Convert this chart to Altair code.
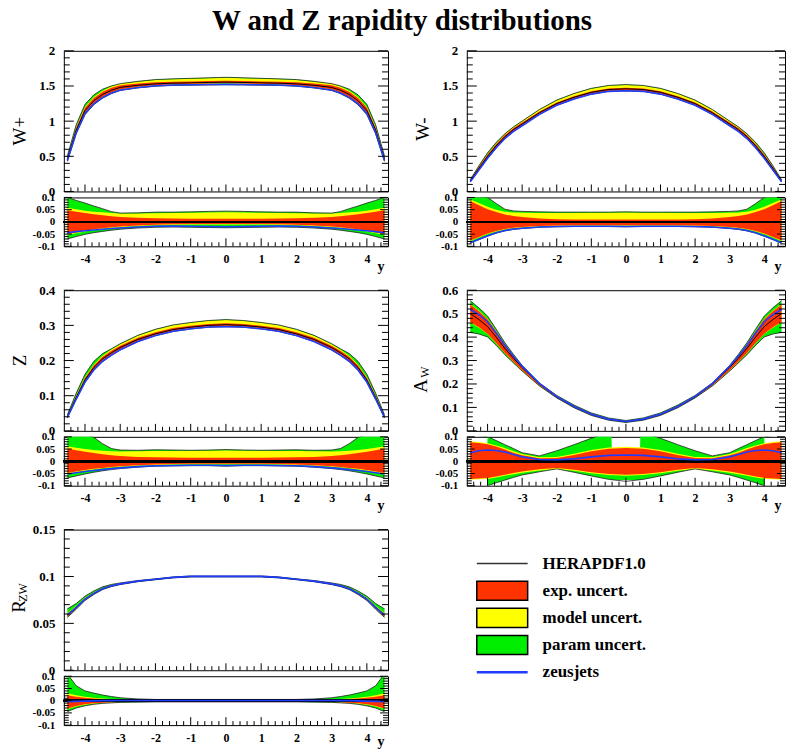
import altair as alt
import pandas as pd

# ---------------- data ----------------
RAP = [-4.5, -4.25, -4.0, -3.75, -3.5, -3.25, -3.0, -2.5, -2.0, -1.5, -1.0, -0.5, 0.0,
       0.5, 1.0, 1.5, 2.0, 2.5, 3.0, 3.25, 3.5, 3.75, 4.0, 4.25, 4.5]

# W+
WP_CENTRAL = [0.46, 0.87, 1.15, 1.29, 1.38, 1.44, 1.48, 1.51, 1.53, 1.54, 1.545, 1.55, 1.555,
              1.55, 1.545, 1.54, 1.53, 1.51, 1.48, 1.44, 1.38, 1.29, 1.15, 0.87, 0.46]
WP_G_UP = [0.100, 0.088, 0.077, 0.065, 0.054, 0.042, 0.036, 0.037, 0.040, 0.040, 0.041, 0.043, 0.044,
           0.043, 0.041, 0.040, 0.040, 0.037, 0.036, 0.042, 0.054, 0.065, 0.077, 0.088, 0.100]
WP_Y_UP = [0.058, 0.052, 0.046, 0.042, 0.039, 0.036, 0.034, 0.034, 0.035, 0.036, 0.037, 0.038, 0.039,
           0.038, 0.037, 0.036, 0.035, 0.034, 0.034, 0.036, 0.039, 0.042, 0.046, 0.052, 0.058]
WP_R_UP = [0.048, 0.042, 0.036, 0.031, 0.027, 0.023, 0.020, 0.017, 0.015, 0.014, 0.013, 0.013, 0.013,
           0.013, 0.013, 0.014, 0.015, 0.017, 0.020, 0.023, 0.027, 0.031, 0.036, 0.042, 0.048]
WP_R_LO = [-0.050, -0.043, -0.036, -0.030, -0.026, -0.022, -0.019, -0.015, -0.012, -0.010, -0.009, -0.009, -0.009,
           -0.009, -0.009, -0.010, -0.012, -0.015, -0.019, -0.022, -0.026, -0.030, -0.036, -0.043, -0.050]
WP_Y_LO = [-0.053, -0.046, -0.039, -0.033, -0.029, -0.025, -0.022, -0.017, -0.014, -0.012, -0.011, -0.011, -0.011,
           -0.011, -0.011, -0.012, -0.014, -0.017, -0.022, -0.025, -0.029, -0.033, -0.039, -0.046, -0.053]
WP_G_LO = [-0.070, -0.060, -0.051, -0.044, -0.039, -0.034, -0.030, -0.025, -0.022, -0.021, -0.022, -0.023, -0.024,
           -0.023, -0.022, -0.021, -0.022, -0.025, -0.030, -0.034, -0.039, -0.044, -0.051, -0.060, -0.070]
WP_BLUE = [-0.045, -0.040, -0.036, -0.033, -0.030, -0.027, -0.025, -0.021, -0.018, -0.017, -0.018, -0.019, -0.020,
           -0.019, -0.018, -0.017, -0.018, -0.021, -0.025, -0.027, -0.030, -0.033, -0.036, -0.040, -0.045]

# W-
WM_CENTRAL = [0.15, 0.33, 0.50, 0.65, 0.78, 0.88, 0.96, 1.12, 1.25, 1.34, 1.41, 1.45, 1.46,
              1.45, 1.41, 1.34, 1.25, 1.12, 0.96, 0.88, 0.78, 0.65, 0.50, 0.33, 0.15]
WM_G_UP = [0.12, 0.11, 0.10, 0.075, 0.052, 0.045, 0.043, 0.041, 0.040, 0.040, 0.040, 0.040, 0.041,
           0.040, 0.040, 0.040, 0.040, 0.041, 0.043, 0.045, 0.052, 0.075, 0.10, 0.11, 0.12]
WM_Y_UP = [0.092, 0.077, 0.062, 0.050, 0.041, 0.038, 0.037, 0.036, 0.036, 0.036, 0.037, 0.037, 0.038,
           0.037, 0.037, 0.036, 0.036, 0.036, 0.037, 0.038, 0.041, 0.050, 0.062, 0.077, 0.092]
WM_R_UP = [0.085, 0.068, 0.052, 0.040, 0.030, 0.024, 0.020, 0.014, 0.011, 0.010, 0.010, 0.010, 0.010,
           0.010, 0.010, 0.010, 0.011, 0.014, 0.020, 0.024, 0.030, 0.040, 0.052, 0.068, 0.085]
WM_R_LO = [-0.076, -0.062, -0.048, -0.037, -0.029, -0.024, -0.021, -0.017, -0.015, -0.014, -0.014, -0.014, -0.014,
           -0.014, -0.014, -0.014, -0.015, -0.017, -0.021, -0.024, -0.029, -0.037, -0.048, -0.062, -0.076]
WM_Y_LO = [-0.078, -0.064, -0.050, -0.039, -0.031, -0.026, -0.023, -0.019, -0.017, -0.016, -0.016, -0.016, -0.016,
           -0.016, -0.016, -0.016, -0.017, -0.019, -0.023, -0.026, -0.031, -0.039, -0.050, -0.064, -0.078]
WM_G_LO = [-0.086, -0.073, -0.059, -0.046, -0.037, -0.031, -0.027, -0.022, -0.020, -0.019, -0.019, -0.019, -0.020,
           -0.019, -0.019, -0.019, -0.020, -0.022, -0.027, -0.031, -0.037, -0.046, -0.059, -0.073, -0.086]
WM_BLUE = [-0.085, -0.071, -0.057, -0.044, -0.035, -0.029, -0.026, -0.021, -0.019, -0.018, -0.018, -0.018, -0.019,
           -0.018, -0.018, -0.018, -0.019, -0.021, -0.026, -0.029, -0.035, -0.044, -0.057, -0.071, -0.085]

# Z
Z_CENTRAL = [0.040, 0.095, 0.145, 0.180, 0.205, 0.222, 0.237, 0.260, 0.276, 0.288, 0.295, 0.300, 0.302,
             0.300, 0.295, 0.288, 0.276, 0.260, 0.237, 0.222, 0.205, 0.180, 0.145, 0.095, 0.040]
Z_G_UP = [0.14, 0.125, 0.11, 0.098, 0.072, 0.052, 0.046, 0.045, 0.047, 0.046, 0.045, 0.046, 0.048,
          0.046, 0.045, 0.046, 0.047, 0.045, 0.046, 0.052, 0.072, 0.098, 0.11, 0.125, 0.14]
Z_Y_UP = [0.062, 0.055, 0.050, 0.046, 0.043, 0.041, 0.040, 0.041, 0.042, 0.042, 0.042, 0.043, 0.044,
          0.043, 0.042, 0.042, 0.042, 0.041, 0.040, 0.041, 0.043, 0.046, 0.050, 0.055, 0.062]
Z_R_UP = [0.052, 0.045, 0.039, 0.034, 0.029, 0.025, 0.022, 0.018, 0.016, 0.015, 0.014, 0.014, 0.014,
          0.014, 0.014, 0.015, 0.016, 0.018, 0.022, 0.025, 0.029, 0.034, 0.039, 0.045, 0.052]
Z_R_LO = [-0.048, -0.042, -0.036, -0.031, -0.027, -0.023, -0.020, -0.016, -0.013, -0.011, -0.010, -0.010, -0.010,
          -0.010, -0.010, -0.011, -0.013, -0.016, -0.020, -0.023, -0.027, -0.031, -0.036, -0.042, -0.048]
Z_Y_LO = [-0.051, -0.045, -0.039, -0.034, -0.029, -0.025, -0.022, -0.018, -0.015, -0.013, -0.012, -0.012, -0.012,
          -0.012, -0.012, -0.013, -0.015, -0.018, -0.022, -0.025, -0.029, -0.034, -0.039, -0.045, -0.051]
Z_G_LO = [-0.068, -0.060, -0.052, -0.045, -0.039, -0.034, -0.030, -0.024, -0.020, -0.019, -0.018, -0.018, -0.020,
          -0.018, -0.018, -0.019, -0.020, -0.024, -0.030, -0.034, -0.039, -0.045, -0.052, -0.060, -0.068]
Z_BLUE = [-0.052, -0.047, -0.042, -0.038, -0.034, -0.030, -0.027, -0.022, -0.018, -0.017, -0.016, -0.016, -0.017,
          -0.016, -0.016, -0.017, -0.018, -0.022, -0.027, -0.030, -0.034, -0.038, -0.042, -0.047, -0.052]

# A_W
AW_CENTRAL = [0.50, 0.475, 0.445, 0.40, 0.352, 0.31, 0.27, 0.20, 0.145, 0.103, 0.07, 0.049, 0.039,
              0.049, 0.07, 0.103, 0.145, 0.20, 0.27, 0.31, 0.352, 0.40, 0.445, 0.475, 0.50]
AW_G_UP = [0.11, 0.105, 0.10, 0.085, 0.068, 0.052, 0.035, 0.022, 0.043, 0.068, 0.094, 0.12, 0.13,
           0.12, 0.094, 0.068, 0.043, 0.022, 0.035, 0.052, 0.068, 0.085, 0.10, 0.105, 0.11]
AW_Y_UP = [0.082, 0.079, 0.074, 0.065, 0.054, 0.041, 0.030, 0.017, 0.018, 0.031, 0.046, 0.056, 0.059,
           0.056, 0.046, 0.031, 0.018, 0.017, 0.030, 0.041, 0.054, 0.065, 0.074, 0.079, 0.082]
AW_R_UP = [0.078, 0.075, 0.070, 0.060, 0.048, 0.035, 0.025, 0.012, 0.013, 0.026, 0.041, 0.051, 0.054,
           0.051, 0.041, 0.026, 0.013, 0.012, 0.025, 0.035, 0.048, 0.060, 0.070, 0.075, 0.078]
AW_R_LO = [-0.072, -0.070, -0.068, -0.062, -0.055, -0.048, -0.042, -0.033, -0.028, -0.035, -0.045, -0.052, -0.055,
           -0.052, -0.045, -0.035, -0.028, -0.033, -0.042, -0.048, -0.055, -0.062, -0.068, -0.070, -0.072]
AW_Y_LO = [-0.076, -0.074, -0.072, -0.066, -0.059, -0.053, -0.047, -0.038, -0.032, -0.039, -0.049, -0.056, -0.059,
           -0.056, -0.049, -0.039, -0.032, -0.038, -0.047, -0.053, -0.059, -0.066, -0.072, -0.074, -0.076]
AW_G_LO = [-0.16, -0.13, -0.10, -0.088, -0.077, -0.066, -0.056, -0.043, -0.031, -0.045, -0.060, -0.074, -0.082,
           -0.074, -0.060, -0.045, -0.031, -0.043, -0.056, -0.066, -0.077, -0.088, -0.10, -0.13, -0.16]
AW_BLUE = [0.035, 0.043, 0.046, 0.044, 0.038, 0.028, 0.018, 0.007, 0.006, 0.010, 0.018, 0.024, 0.026,
           0.024, 0.018, 0.010, 0.006, 0.007, 0.018, 0.028, 0.038, 0.044, 0.046, 0.043, 0.035]
# visible part of the green fill in the A_W ratio pad (as drawn in the picture)
AW_GF_RAP = [-4.5, -4.02, -4.0, -3.75, -3.5, -3.25, -3.0, -2.5, -2.0, -1.5, -1.0, -0.5, -0.42, -0.4,
             0.4, 0.42, 0.5, 1.0, 1.5, 2.0, 2.5, 3.0, 3.25, 3.5, 3.75, 4.0, 4.02, 4.5]
AW_GF_UP = [0.0, 0.0, 0.10, 0.085, 0.068, 0.052, 0.035, 0.022, 0.043, 0.068, 0.094, 0.12, 0.12, 0.0,
            0.0, 0.12, 0.12, 0.094, 0.068, 0.043, 0.022, 0.035, 0.052, 0.068, 0.085, 0.10, 0.0, 0.0]
AW_GF_LO = [0.0, 0.0, -0.10, -0.088, -0.077, -0.066, -0.056, -0.043, -0.031, -0.045, -0.060, -0.074, -0.076, -0.077,
            -0.077, -0.076, -0.074, -0.060, -0.045, -0.031, -0.043, -0.056, -0.066, -0.077, -0.088, -0.10, 0.0, 0.0]

# R_ZW
RZ_CENTRAL = [0.059, 0.067, 0.076, 0.082, 0.087, 0.090, 0.092, 0.095, 0.097, 0.099, 0.100, 0.100, 0.100,
              0.100, 0.100, 0.099, 0.097, 0.095, 0.092, 0.090, 0.087, 0.082, 0.076, 0.067, 0.059]
RZ_G_UP = [0.11, 0.061, 0.040, 0.031, 0.023, 0.017, 0.012, 0.007, 0.005, 0.005, 0.005, 0.005, 0.005,
           0.005, 0.005, 0.005, 0.005, 0.007, 0.012, 0.017, 0.023, 0.031, 0.040, 0.061, 0.11]
RZ_Y_UP = [0.030, 0.022, 0.016, 0.012, 0.009, 0.007, 0.006, 0.005, 0.004, 0.004, 0.004, 0.004, 0.004,
           0.004, 0.004, 0.004, 0.004, 0.005, 0.006, 0.007, 0.009, 0.012, 0.016, 0.022, 0.030]
RZ_R_UP = [0.022, 0.016, 0.012, 0.009, 0.007, 0.005, 0.004, 0.003, 0.003, 0.003, 0.003, 0.003, 0.003,
           0.003, 0.003, 0.003, 0.003, 0.003, 0.004, 0.005, 0.007, 0.009, 0.012, 0.016, 0.022]
RZ_R_LO = [-0.032, -0.022, -0.015, -0.011, -0.008, -0.006, -0.005, -0.004, -0.003, -0.003, -0.003, -0.003, -0.003,
           -0.003, -0.003, -0.003, -0.003, -0.004, -0.005, -0.006, -0.008, -0.011, -0.015, -0.022, -0.032]
RZ_Y_LO = [-0.034, -0.024, -0.017, -0.013, -0.010, -0.008, -0.006, -0.005, -0.004, -0.004, -0.004, -0.004, -0.004,
           -0.004, -0.004, -0.004, -0.004, -0.005, -0.006, -0.008, -0.010, -0.013, -0.017, -0.024, -0.034]
RZ_G_LO = [-0.045, -0.030, -0.021, -0.015, -0.011, -0.009, -0.007, -0.006, -0.005, -0.005, -0.005, -0.005, -0.005,
           -0.005, -0.005, -0.005, -0.005, -0.006, -0.007, -0.009, -0.011, -0.015, -0.021, -0.030, -0.045]
RZ_BLUE = [-0.004, -0.003, -0.002, -0.001, 0.0, 0.0, 0.001, 0.001, 0.001, 0.001, 0.001, 0.001, 0.001,
           0.001, 0.001, 0.001, 0.001, 0.001, 0.001, 0.0, 0.0, -0.001, -0.002, -0.003, -0.004]

# axis labels / ticks
X_LABELS = [-4, -3, -2, -1, 0, 1, 2, 3, 4]
X_MINOR = [k / 5 for k in range(-22, 23) if k % 5 != 0]
RATIO_LABELS = [-0.1, -0.05, 0, 0.05, 0.1]
RATIO_MINOR = [round(k / 100, 3) for k in range(-10, 11) if k % 5 != 0]
W_LABELS = [0, 0.5, 1, 1.5, 2]
W_MINOR = [round(k / 10, 2) for k in range(0, 21) if k % 5 != 0]
Z_LABELS = [0, 0.1, 0.2, 0.3, 0.4]
Z_MINOR = [round(k / 50, 3) for k in range(0, 21) if k % 5 != 0]
AW_LABELS = [0, 0.1, 0.2, 0.3, 0.4, 0.5, 0.6]
AW_MINOR = [round(k / 50, 3) for k in range(0, 31) if k % 5 != 0]
RZ_LABELS = [0, 0.05, 0.1, 0.15]
RZ_MINOR = [round(k / 100, 3) for k in range(0, 16) if k % 5 != 0]

LEG_LABELS = ["HERAPDF1.0", "exp. uncert.", "model uncert.", "param uncert.", "zeusjets"]
LEG_KIND = ["line", "box", "box", "box", "line"]

# ---------------- style ----------------
FONT = "Liberation Serif"
C_RED = "#ff3300"
C_YEL = "#ffff00"
C_GRN = "#00ee00"
C_BLUE = "#1f3cff"
C_OUT = "#222222"
LEG_COLOR = ["#333333", C_RED, C_YEL, C_GRN, C_BLUE]
LEG_WIDTH = [1.5, 1.5, 1.5, 1.5, 2.5]

XDOM = [-4.6, 4.6]
W_LEFT = 325
W_RIGHT = 319
H_MAIN = 141
H_RATIO = 49
H_GAP = 32
LABEL_EXPR = "datum.value + ''"


def band_frame(rap, cen, gu, yu, ru, rl, yl, gl, bl, main):
    df = pd.DataFrame({"y": rap})
    cols = {"gu": gu, "yu": yu, "ru": ru, "rl": rl, "yl": yl, "gl": gl, "bl": bl}
    c = pd.Series(cen, dtype=float)
    for k, arr in cols.items():
        s = pd.Series(arr, dtype=float)
        df[k] = c * (1.0 + s) if main else s
    df["c"] = c if main else 0.0
    return df


def tick_layers(xs, ys, w, h, ymaj, ymin, xl, yl):
    out = []
    for vals, ln in ((X_LABELS, xl[0]), (X_MINOR, xl[1])):
        out.append(alt.Chart(pd.DataFrame({"t": vals})).mark_rule(color="black", strokeWidth=1).encode(
            x=alt.X("t:Q", scale=xs, axis=None), y=alt.value(h), y2=alt.value(h - ln)))
    for vals, ln in ((ymaj, yl[0]), (ymin, yl[1])):
        tdf = pd.DataFrame({"t": vals})
        out.append(alt.Chart(tdf).mark_rule(color="black", strokeWidth=1).encode(
            y=alt.Y("t:Q", scale=ys, axis=None), x=alt.value(0), x2=alt.value(ln)))
        out.append(alt.Chart(tdf).mark_rule(color="black", strokeWidth=1).encode(
            y=alt.Y("t:Q", scale=ys, axis=None), x=alt.value(w), x2=alt.value(w - ln)))
    return out


def subplot(df, ydom, ylabels, yminor, w, h, ratio, title="", title_y=70, texts=None, gfill=None, xtitle_y=24):
    xs = alt.Scale(domain=XDOM, nice=False, zero=False)
    ys = alt.Scale(domain=ydom, nice=False, zero=False)
    common = dict(tickSize=0, ticks=False, domain=False, grid=False, labelFont=FONT,
                  labelFontWeight="bold", labelColor="black", labelOverlap=False, labelFlush=False,
                  labelExpr=LABEL_EXPR)
    if ratio:
        xaxis = alt.Axis(values=X_LABELS, labelFontSize=12, labelPadding=7,
                         title="y", titleFont=FONT, titleFontWeight="bold", titleFontSize=14,
                         titleColor="black", titleX=w - 4, titleY=xtitle_y, titleAlign="right",
                         titleBaseline="alphabetic", **common)
    else:
        xaxis = None
    yaxis = alt.Axis(values=ylabels, labelFontSize=11 if ratio else 13, labelPadding=9,
                     title=title, titleFont=FONT, titleFontSize=19, titleFontWeight="normal",
                     titleColor="black", titleAngle=270, titleX=-44, titleY=title_y,
                     titleAlign="center", titleBaseline="middle", **common)
    base = alt.Chart(df)
    gsrc = alt.Chart(gfill) if gfill is not None else base
    X = alt.X("y:Q", scale=xs, axis=None)
    layers = [
        gsrc.mark_area(color=C_GRN, clip=True).encode(
            x=alt.X("y:Q", scale=xs, axis=xaxis), y=alt.Y("gl:Q", scale=ys, axis=yaxis), y2="gu:Q"),
        base.mark_area(color=C_YEL, clip=True).encode(x=X, y=alt.Y("yl:Q", scale=ys, axis=None), y2="yu:Q"),
        base.mark_area(color=C_RED, clip=True).encode(x=X, y=alt.Y("rl:Q", scale=ys, axis=None), y2="ru:Q"),
        base.mark_line(color=C_OUT, strokeWidth=0.8, clip=True).encode(x=X, y=alt.Y("gu:Q", scale=ys, axis=None)),
        base.mark_line(color=C_OUT, strokeWidth=0.8, clip=True).encode(x=X, y=alt.Y("gl:Q", scale=ys, axis=None)),
    ]
    if ratio:
        layers.append(base.mark_rule(color="black", strokeWidth=2).encode(
            y=alt.YDatum(0, scale=ys, axis=None)))
    else:
        layers.append(base.mark_line(color="black", strokeWidth=1, clip=True).encode(
            x=X, y=alt.Y("c:Q", scale=ys, axis=None)))
    layers.append(base.mark_line(color=C_BLUE, strokeWidth=1.6, clip=True).encode(
        x=X, y=alt.Y("bl:Q", scale=ys, axis=None)))
    if ratio:
        layers += tick_layers(xs, ys, w, h, RATIO_LABELS, RATIO_MINOR, (8, 4), (8, 5))
    else:
        layers += tick_layers(xs, ys, w, h, ylabels, yminor, (7, 4), (10, 6))
    if texts:
        for s, size, px, py in texts:
            layers.append(alt.Chart(pd.DataFrame({"s": [s]})).mark_text(
                angle=270, font=FONT, fontSize=size, align="center", baseline="middle", color="black"
            ).encode(text="s:N", x=alt.value(px), y=alt.value(py)))
    return alt.layer(*layers).resolve_axis(x="independent", y="independent").properties(width=w, height=h)


def panel(rap, cen, parts, ydom, ylabels, yminor, w, title="", title_y=70, texts=None, gfill=None,
          xtitle_y=24):
    main_df = band_frame(rap, cen, *parts, main=True)
    ratio_df = band_frame(rap, cen, *parts, main=False)
    top = subplot(main_df, ydom, ylabels, yminor, w, H_MAIN, False, title, title_y, texts)
    bot = subplot(ratio_df, [-0.1, 0.1], RATIO_LABELS, RATIO_MINOR, w, H_RATIO, True, gfill=gfill,
                  xtitle_y=xtitle_y)
    return top, bot


def spacer(w, h):
    return alt.Chart(pd.DataFrame({"a": [0]})).mark_point(opacity=0).encode(
        x=alt.value(0), y=alt.value(0)).properties(width=w, height=h, view=alt.ViewBackground(strokeOpacity=0))


wp = panel(RAP, WP_CENTRAL, (WP_G_UP, WP_Y_UP, WP_R_UP, WP_R_LO, WP_Y_LO, WP_G_LO, WP_BLUE),
           [0, 2], W_LABELS, W_MINOR, W_LEFT, title="W+", title_y=80)
wm = panel(RAP, WM_CENTRAL, (WM_G_UP, WM_Y_UP, WM_R_UP, WM_R_LO, WM_Y_LO, WM_G_LO, WM_BLUE),
           [0, 2], W_LABELS, W_MINOR, W_RIGHT, title="W-", title_y=78)
zz = panel(RAP, Z_CENTRAL, (Z_G_UP, Z_Y_UP, Z_R_UP, Z_R_LO, Z_Y_LO, Z_G_LO, Z_BLUE),
           [0, 0.4], Z_LABELS, Z_MINOR, W_LEFT, title="Z", title_y=70)
gfill_df = pd.DataFrame({"y": AW_GF_RAP, "gu": AW_GF_UP, "gl": AW_GF_LO})
aw = panel(RAP, AW_CENTRAL, (AW_G_UP, AW_Y_UP, AW_R_UP, AW_R_LO, AW_Y_LO, AW_G_LO, AW_BLUE),
           [0, 0.6], AW_LABELS, AW_MINOR, W_RIGHT,
           texts=[("A", 19, -46, 96), ("W", 12, -42, 82)], gfill=gfill_df)
rz = panel(RAP, RZ_CENTRAL, (RZ_G_UP, RZ_Y_UP, RZ_R_UP, RZ_R_LO, RZ_Y_LO, RZ_G_LO, RZ_BLUE),
           [0, 0.15], RZ_LABELS, RZ_MINOR, W_LEFT,
           texts=[("R", 19, -45, 77), ("ZW", 12, -41, 63)], xtitle_y=20)

# legend panel
ldf = pd.DataFrame({"idx": list(range(len(LEG_LABELS))), "label": LEG_LABELS, "kind": LEG_KIND,
                    "col": LEG_COLOR, "w": LEG_WIDTH})
lys = alt.Scale(domain=[0, 4], range=[34, 143])
leg_boxes = alt.Chart(ldf).transform_filter("datum.kind == 'box'").transform_calculate(
    y0="datum.idx - 0.35", y1="datum.idx + 0.35").mark_rect(stroke="black", strokeWidth=1.5).encode(
    y=alt.Y("y0:Q", scale=lys, axis=None), y2="y1:Q", x=alt.value(10), x2=alt.value(61),
    color=alt.Color("col:N", scale=None))
leg_lines = alt.Chart(ldf).transform_filter("datum.kind == 'line'").mark_rule().encode(
    y=alt.Y("idx:Q", scale=lys, axis=None), x=alt.value(10), x2=alt.value(61),
    color=alt.Color("col:N", scale=None), strokeWidth=alt.StrokeWidth("w:Q", scale=None))
leg_text = alt.Chart(ldf).mark_text(align="left", baseline="middle", font=FONT, fontSize=17,
                                    fontWeight="bold", color="black").encode(
    y=alt.Y("idx:Q", scale=lys, axis=None), x=alt.value(76), text="label:N")
legend = alt.layer(leg_boxes, leg_lines, leg_text).properties(
    width=W_RIGHT, height=H_MAIN, view=alt.ViewBackground(strokeOpacity=0))

cells = [
    wp[0], wm[0],
    wp[1], wm[1],
    spacer(W_LEFT, H_GAP), spacer(W_RIGHT, H_GAP),
    zz[0], aw[0],
    zz[1], aw[1],
    spacer(W_LEFT, H_GAP), spacer(W_RIGHT, H_GAP),
    rz[0], legend,
    rz[1], spacer(W_RIGHT, H_RATIO),
]

chart = alt.concat(*cells, columns=2, spacing={"row": 6, "column": 79}, bounds="flush", align="each").properties(
    title=alt.TitleParams("W and Z rapidity distributions", font=FONT, fontSize=29, fontWeight="bold",
                          anchor="middle", offset=8, dx=4, color="black"),
    padding={"left": 9, "top": 6, "right": 0, "bottom": 0},
    background="white",
).configure_view(stroke="black", strokeWidth=1)

chart.save("out.html", embed_options={"renderer": "svg", "actions": False})
